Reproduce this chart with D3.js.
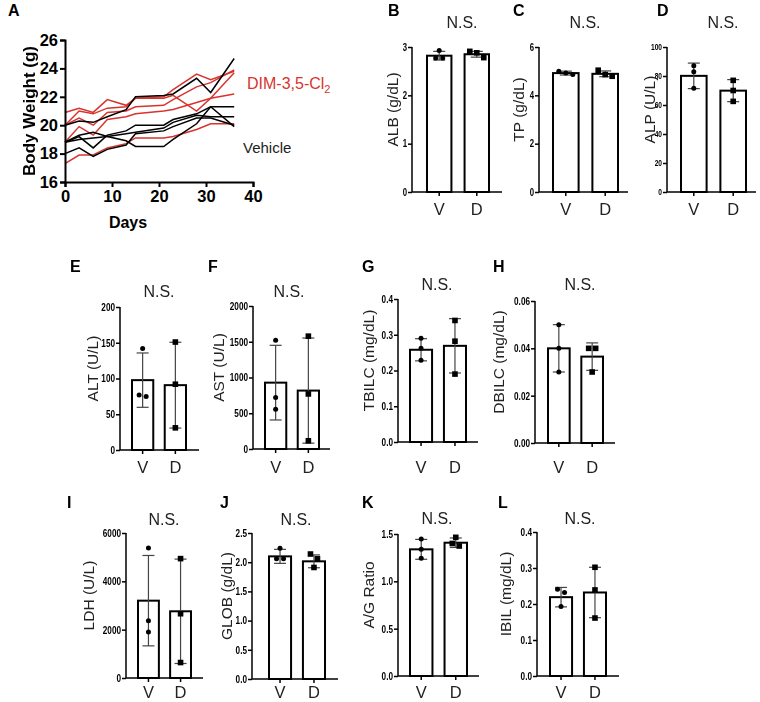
<!DOCTYPE html>
<html>
<head>
<meta charset="utf-8">
<script src="https://cdn.jsdelivr.net/npm/d3@7"></script>
<style>
  body { margin: 0; background: #fff; }
  svg { display: block; font-family: "Liberation Sans", Arial, sans-serif; }
  .gray { filter: grayscale(100%); }
</style>
</head>
<body>
<svg id="fig" width="760" height="702"></svg>
<script>
// ---- panel A: body weight per mouse ----
const days = [0, 3, 6, 9, 13, 15, 21, 23, 28, 31, 36];
const dimWeights = [
  [20.9, 21.2, 20.9, 21.8, 21.4, 21.9, 22.0, 22.5, 23.6, 23.2, 23.8],
  [20.0, 21.0, 20.8, 21.2, 21.3, 21.9, 21.9, 22.1, 21.0, 21.9, 23.7],
  [20.0, 20.5, 20.0, 20.9, 21.0, 21.3, 21.4, 21.8, 22.7, 23.0, 23.9],
  [18.8, 19.9, 19.3, 20.4, 20.6, 20.8, 21.0, 21.1, 21.6, 21.9, 22.2],
  [17.3, 17.9, 17.9, 18.4, 18.7, 19.1, 19.1, 19.2, 19.7, 20.1, 20.1]
];
const vehWeights = [
  [20.0, 20.3, 20.2, 20.6, 21.1, 22.0, 22.1, 22.2, 23.3, 22.3, 24.7],
  [18.8, 19.2, 18.4, 19.3, 19.6, 20.0, 20.0, 20.4, 20.8, 21.3, 21.3],
  [18.8, 19.0, 19.1, 19.2, 19.4, 19.5, 19.8, 20.2, 20.7, 20.6, 20.6],
  [18.8, 19.3, 19.5, 19.2, 18.9, 18.5, 18.5, 19.0, 20.1, 21.3, 19.9],
  [18.0, 18.4, 17.8, 18.3, 18.6, 19.4, 19.6, 19.9, 20.5, 20.5, 20.0]
];
const weightTicks = [16, 18, 20, 22, 24, 26];
const dayTicks = [0, 10, 20, 30, 40];

// ---- bar panels: V = vehicle, D = DIM-3,5-Cl2 ----
const groups = ['V', 'D'];

const albMean = [2.82, 2.85], albSd = [0.09, 0.06];
const albPts = [[2.93, 2.77, 2.77], [2.91, 2.88, 2.78]];
const albTicks = ['0', '1', '2', '3'];

const tpMean = [4.92, 4.89], tpSd = [0.08, 0.12];
const tpPts = [[5.0, 4.92, 4.86], [5.04, 4.86, 4.79]];
const tpTicks = ['0', '2', '4', '6'];

const alpMean = [80.1, 69.9], alpSd = [8.8, 7.6];
const alpPts = [[87, 83, 71.5], [77, 70, 62.5]];
const alpTicks = ['0', '20', '40', '60', '80', '100'];

const altMean = [97.7, 90.7], altSd = [38, 60];
const altPts = [[142, 75, 77], [151, 92, 31]];
const altTicks = ['0', '50', '100', '150', '200'];

const astMean = [928, 817], astSd = [522, 735];
const astPts = [[1522, 719, 557], [1578, 770, 115]];
const astTicks = ['0', '500', '1000', '1500', '2000'];

const tbilMean = [0.258, 0.269], tbilSd = [0.031, 0.076];
const tbilPts = [[0.29, 0.262, 0.229], [0.34, 0.282, 0.19]];
const tbilTicks = ['0.0', '0.1', '0.2', '0.3', '0.4'];

const dbilMean = [0.040, 0.0365], dbilSd = [0.010, 0.0058];
const dbilPts = [[0.05, 0.04, 0.03], [0.04, 0.04, 0.03]];
const dbilTicks = ['0.00', '0.02', '0.04', '0.06'];

const ldhMean = [3200, 2760], ldhSd = [1870, 2160];
const ldhPts = [[5380, 2370, 1900], [4940, 2660, 640]];
const ldhTicks = ['0', '2000', '4000', '6000'];

const globMean = [2.10, 2.015], globSd = [0.12, 0.11];
const globPts = [[2.24, 2.06, 2.06], [2.14, 2.06, 1.91]];
const globTicks = ['0.0', '0.5', '1.0', '1.5', '2.0', '2.5'];

const agMean = [1.338, 1.408], agSd = [0.105, 0.05];
const agPts = [[1.447, 1.338, 1.243], [1.465, 1.40, 1.373]];
const agTicks = ['0.0', '0.5', '1.0', '1.5'];

const ibilMean = [0.219, 0.232], ibilSd = [0.027, 0.07];
const ibilPts = [[0.241, 0.232, 0.193], [0.302, 0.239, 0.161]];
const ibilTicks = ['0.0', '0.1', '0.2', '0.3', '0.4'];

const panels = [
  { id: 'B', label: 'ALB (g/dL)', mean: albMean, sd: albSd, pts: albPts, ticks: albTicks },
  { id: 'C', label: 'TP (g/dL)', mean: tpMean, sd: tpSd, pts: tpPts, ticks: tpTicks },
  { id: 'D', label: 'ALP (U/L)', mean: alpMean, sd: alpSd, pts: alpPts, ticks: alpTicks },
  { id: 'E', label: 'ALT (U/L)', mean: altMean, sd: altSd, pts: altPts, ticks: altTicks },
  { id: 'F', label: 'AST (U/L)', mean: astMean, sd: astSd, pts: astPts, ticks: astTicks },
  { id: 'G', label: 'TBILC (mg/dL)', mean: tbilMean, sd: tbilSd, pts: tbilPts, ticks: tbilTicks },
  { id: 'H', label: 'DBILC (mg/dL)', mean: dbilMean, sd: dbilSd, pts: dbilPts, ticks: dbilTicks },
  { id: 'I', label: 'LDH (U/L)', mean: ldhMean, sd: ldhSd, pts: ldhPts, ticks: ldhTicks },
  { id: 'J', label: 'GLOB (g/dL)', mean: globMean, sd: globSd, pts: globPts, ticks: globTicks },
  { id: 'K', label: 'A/G Ratio', mean: agMean, sd: agSd, pts: agPts, ticks: agTicks },
  { id: 'L', label: 'IBIL (mg/dL)', mean: ibilMean, sd: ibilSd, pts: ibilPts, ticks: ibilTicks }
];

// where each panel sits on the page (axis x, top/bottom of y axis, bar span, etc.)
const layout = {
  B: { x: 412, top: 47, bot: 192, b0: 15, b1: 77, end: 90, lx: 388, ly: 10, nsx: 462, nsy: 22, ylx: 392, gy: 209, tf: 10 },
  C: { x: 539, top: 47, bot: 192, b0: 14, b1: 79, end: 89, lx: 513, ly: 10, nsx: 585, nsy: 22, ylx: 518, gy: 209, tf: 10 },
  D: { x: 667, top: 47, bot: 192, b0: 14, b1: 79, end: 89, lx: 657, ly: 10, nsx: 723, nsy: 22, ylx: 649, gy: 209, tf: 8.5 },
  E: { x: 120, top: 307, bot: 450, b0: 12, b1: 66, end: 79, lx: 70, ly: 266, nsx: 159, nsy: 291, ylx: 92, gy: 467, tf: 10.5 },
  F: { x: 253, top: 306, bot: 449, b0: 12, b1: 66, end: 77, lx: 208, ly: 266, nsx: 289, nsy: 291, ylx: 218, gy: 467, tf: 10.5 },
  G: { x: 398, top: 299, bot: 442, b0: 12, b1: 68, end: 80, lx: 362, ly: 266, nsx: 437, nsy: 284, ylx: 368, gy: 467, tf: 10.5 },
  H: { x: 535, top: 301, bot: 443, b0: 13, b1: 68, end: 80, lx: 493, ly: 266, nsx: 580, nsy: 284, ylx: 498, gy: 467, tf: 10.5 },
  I: { x: 126, top: 533, bot: 678, b0: 12, b1: 65, end: 77, lx: 67, ly: 502, nsx: 164, nsy: 519, ylx: 88, gy: 692, tf: 10.5 },
  J: { x: 252, top: 533, bot: 679, b0: 17, b1: 73, end: 86, lx: 220, ly: 502, nsx: 296, nsy: 519, ylx: 226, gy: 692, tf: 10.5 },
  K: { x: 398, top: 534, bot: 676, b0: 12, b1: 69, end: 81, lx: 362, ly: 502, nsx: 437, nsy: 518, ylx: 368, gy: 692, tf: 10.5 },
  L: { x: 537, top: 532, bot: 676, b0: 13, b1: 69, end: 82, lx: 498, ly: 502, nsx: 580, nsy: 518, ylx: 505, gy: 692, tf: 10.5 }
};

const svg = d3.select('#fig');
const RED = '#d7342e';

// ---------- panel A ----------
const ax = d3.scaleLinear().domain([0, 40]).range([65, 253]);
const ay = d3.scaleLinear().domain([16, 26]).range([182, 40]);
const gA = svg.append('g');

const line = d3.line().x((d, i) => ax(days[i])).y(d => ay(d));
gA.selectAll('.dim').data(dimWeights).enter().append('path')
  .attr('d', line).attr('fill', 'none').attr('stroke', RED).attr('stroke-width', 1.5);
gA.selectAll('.veh').data(vehWeights).enter().append('path')
  .attr('d', line).attr('fill', 'none').attr('stroke', '#000').attr('stroke-width', 1.5);

const aLeft = gA.append('g').attr('transform', 'translate(65,0)')
  .call(d3.axisLeft(ay).tickValues(weightTicks).tickSize(5).tickPadding(2));
const aBot = gA.append('g').attr('transform', 'translate(0,182)')
  .call(d3.axisBottom(ax).tickValues(dayTicks).tickSize(5).tickPadding(3));
[aLeft, aBot].forEach(g => {
  g.selectAll('path,line').attr('stroke', '#000').attr('stroke-width', 2);
  g.selectAll('text').attr('fill', '#000').attr('font-size', 16.5).attr('font-weight', 'bold')
    .attr('font-family', '"Liberation Sans", Arial, sans-serif');
});

gA.append('text').attr('class', 'gray').attr('transform', 'translate(29,111) rotate(-90)')
  .attr('text-anchor', 'middle').attr('dominant-baseline', 'central')
  .attr('font-size', 17).attr('font-weight', 'bold').text('Body Weight (g)');
gA.append('text').attr('x', 128).attr('y', 228).attr('text-anchor', 'middle')
  .attr('font-size', 16).attr('font-weight', 'bold').text('Days');

const dimLbl = gA.append('text').attr('x', 247).attr('y', 89).attr('fill', RED).attr('font-size', 16);
dimLbl.append('tspan').text('DIM-3,5-Cl');
dimLbl.append('tspan').attr('font-size', 11).attr('dy', 4).text('2');
gA.append('text').attr('x', 243).attr('y', 153).attr('fill', '#222').attr('font-size', 15).text('Vehicle');
gA.append('text').attr('x', 8).attr('y', 10).attr('dominant-baseline', 'central')
  .attr('font-size', 16).attr('font-weight', 'bold').text('A');

// ---------- bar panels ----------
panels.forEach(p => {
  const L = layout[p.id];
  const g = svg.append('g').attr('class', 'gray');
  const tickVals = p.ticks.map(Number);
  const y = d3.scaleLinear().domain([0, d3.max(tickVals)]).range([L.bot, L.top]);
  const x = d3.scaleBand().domain(groups).range([L.x + L.b0, L.x + L.b1])
    .paddingInner(0.35).paddingOuter(0);
  const bw = x.bandwidth();

  // bars
  g.selectAll('rect').data(groups).enter().append('rect')
    .attr('x', d => x(d)).attr('width', bw)
    .attr('y', (d, i) => y(p.mean[i])).attr('height', (d, i) => L.bot - y(p.mean[i]))
    .attr('fill', '#fff').attr('stroke', '#000').attr('stroke-width', 2);

  // error bars (mean +/- SD)
  groups.forEach((grp, i) => {
    const cx = x(grp) + bw / 2;
    const hi = y(p.mean[i] + p.sd[i]), lo = y(Math.max(0, p.mean[i] - p.sd[i]));
    g.append('line').attr('x1', cx).attr('x2', cx).attr('y1', hi).attr('y2', lo)
      .attr('stroke', '#444').attr('stroke-width', 1.2);
    [hi, lo].forEach(yy => g.append('line').attr('x1', cx - 6).attr('x2', cx + 6)
      .attr('y1', yy).attr('y2', yy).attr('stroke', '#444').attr('stroke-width', 1.2));

    // individual animals, spread sideways when they overlap
    const sorted = p.pts[i].map(v => ({ v, py: y(v) })).sort((a, b) => a.py - b.py);
    const clusters = [];
    sorted.forEach(d => {
      const last = clusters[clusters.length - 1];
      if (last && d.py - last[last.length - 1].py < 5) last.push(d); else clusters.push([d]);
    });
    clusters.forEach(c => c.forEach((d, k) => { d.px = cx + (k - (c.length - 1) / 2) * 7; }));
    if (i === 0) {
      g.selectAll('.pv').data(sorted).enter().append('circle')
        .attr('cx', d => d.px).attr('cy', d => d.py).attr('r', 2.5).attr('fill', '#000');
    } else {
      g.selectAll('.pd').data(sorted).enter().append('rect')
        .attr('x', d => d.px - 2.8).attr('y', d => d.py - 2.8)
        .attr('width', 5.6).attr('height', 5.6).attr('fill', '#000');
    }
  });

  // axes
  const yAxis = g.append('g').attr('transform', `translate(${L.x},0)`)
    .call(d3.axisLeft(y).tickValues(tickVals).tickFormat((d, i) => p.ticks[i]).tickSize(4).tickPadding(1));
  yAxis.select('.domain').attr('d', `M0,${L.top}V${L.bot}`);
  yAxis.selectAll('path,line').attr('stroke', '#000').attr('stroke-width', 1.5);
  // condensed bold tick labels, squeezed toward the axis
  yAxis.selectAll('text').attr('fill', '#000').attr('font-size', L.tf).attr('font-weight', 'bold')
    .each(function () {
      const tx = +this.getAttribute('x');
      d3.select(this).attr('x', 0).attr('transform', `translate(${tx},0) scale(0.78,1)`);
    });

  g.append('line').attr('x1', L.x).attr('x2', L.x + L.end).attr('y1', L.bot).attr('y2', L.bot)
    .attr('stroke', '#000').attr('stroke-width', 1.5);
  groups.forEach(grp => {
    const cx = x(grp) + bw / 2;
    g.append('line').attr('x1', cx).attr('x2', cx).attr('y1', L.bot).attr('y2', L.bot + 4)
      .attr('stroke', '#000').attr('stroke-width', 1.5);
    g.append('text').attr('x', cx).attr('y', L.gy).attr('text-anchor', 'middle')
      .attr('dominant-baseline', 'central').attr('font-size', 16.5).attr('fill', '#222').text(grp);
  });

  g.append('text')
    .attr('transform', `translate(${L.ylx},${(L.top + L.bot) / 2 - 10}) rotate(-90)`)
    .attr('text-anchor', 'middle').attr('dominant-baseline', 'central')
    .attr('font-size', 15.5).attr('fill', '#222').text(p.label);
  g.append('text').attr('x', L.nsx).attr('y', L.nsy).attr('text-anchor', 'middle')
    .attr('dominant-baseline', 'central').attr('font-size', 16).attr('fill', '#222').text('N.S.');
  g.append('text').attr('x', L.lx).attr('y', L.ly).attr('dominant-baseline', 'central')
    .attr('font-size', 16).attr('font-weight', 'bold').text(p.id);
});
</script>
</body>
</html>
